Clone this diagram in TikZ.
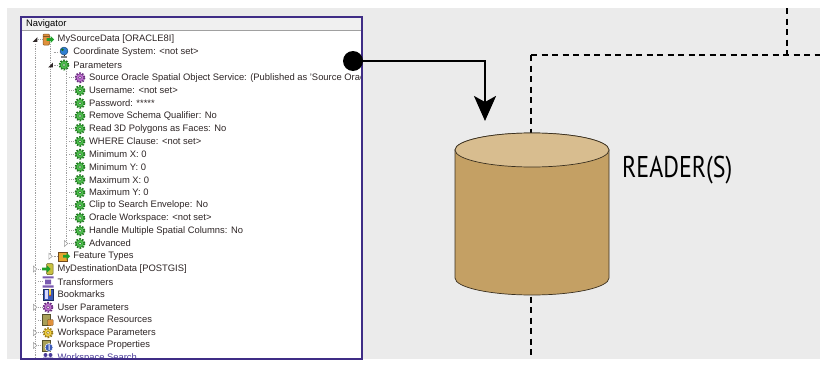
\documentclass[tikz,border=0pt]{standalone}
\usepackage{fontspec}
\setmainfont{Liberation Sans}
\newfontfamily\labelfont{PT Sans}
\usetikzlibrary{arrows.meta,positioning,shapes.geometric}
\definecolor{canvas}{HTML}{EBEBEB}
\definecolor{frame}{HTML}{3F2D86}
\definecolor{titlebar}{HTML}{F0F0F0}
\definecolor{treeink}{HTML}{2E2626}
\definecolor{searchink}{HTML}{4B3C9A}
\definecolor{guideline}{HTML}{A0A0A0}
\definecolor{geargreen}{HTML}{4CC04C}
\definecolor{geargreendk}{HTML}{1E7A1E}
\definecolor{gearpurple}{HTML}{C070D0}
\definecolor{gearpurpledk}{HTML}{6A2C80}
\definecolor{gearyellow}{HTML}{F0D040}
\definecolor{gearyellowdk}{HTML}{9A7A10}
\definecolor{arrowgreen}{HTML}{1FA02A}
\definecolor{dborange}{HTML}{E0913C}
\definecolor{dbolive}{HTML}{C8C040}
\definecolor{globeblue}{HTML}{2F7FD0}
\definecolor{stackpurple}{HTML}{7A5AB0}
\definecolor{bookblue}{HTML}{3A5AB8}
\definecolor{boxolive}{HTML}{A8A058}
\definecolor{tankbody}{HTML}{C4A064}
\definecolor{tanktop}{HTML}{D8BD8F}
\definecolor{tankline}{HTML}{3A3020}

% small gear: toothed rim, body and hub
\newcommand\gearicon[2]{%
  \draw[#2, line width=1.7pt, dash pattern=on 1.6pt off 1.3pt] (0,0) circle (4.6);
  \fill[#1, draw=#2, line width=.5pt] (0,0) circle (3.9);
  \fill[white, draw=#2, line width=.5pt] (0,0) circle (1.6);
}

\tikzset{
  % expanders
  togE/.pic={\fill[treeink] (2.4,-2.4) -- (2.4,2.4) -- (-2.4,2.4) -- cycle;},
  togC/.pic={\draw[guideline, line width=.6pt, fill=white] (-1.7,-3) -- (1.8,0) -- (-1.7,3) -- cycle;},
  togN/.pic={},
  % tree icons
  ggear/.pic={\gearicon{geargreen}{geargreendk}},
  pgear/.pic={\gearicon{gearpurple}{gearpurpledk}},
  ygear/.pic={\gearicon{gearyellow}{gearyellowdk}},
  srcdb/.pic={
    \fill[dborange, draw=dborange!60!black, line width=.5pt, rounded corners=1pt] (-5,-5.5) rectangle (1.5,5.5);
    \draw[dborange!60!black, line width=.4pt] (-5,-3) -- (1.5,-3);
    \fill[arrowgreen] (-1.5,-1.4) -- (2.5,-1.4) -- (2.5,-3.5) -- (6.2,0) -- (2.5,3.5) -- (2.5,1.4) -- (-1.5,1.4) -- cycle;},
  dstdb/.pic={
    \fill[dbolive, draw=dbolive!50!black, line width=.5pt, rounded corners=1pt] (-1.5,-5.5) rectangle (5,5.5);
    \fill[arrowgreen] (-6,-1.4) -- (-1,-1.4) -- (-1,-3.5) -- (2.7,0) -- (-1,3.5) -- (-1,1.4) -- (-6,1.4) -- cycle;},
  globe/.pic={
    \fill[globeblue, draw=globeblue!50!black, line width=.4pt] (0,-1.2) circle (4);
    \fill[arrowgreen!70!black] (-1.5,-2.5) circle (1.4);
    \draw[treeink, line width=.8pt] (0,2.8) -- (0,4.2);
    \fill[gray] (-3,4) rectangle (3,5.4);},
  folder/.pic={
    \fill[dborange!80!yellow, draw=dborange!50!black, line width=.4pt] (-5.5,-4) rectangle (3.5,5);
    \fill[arrowgreen] (-1,-1.4) -- (2.5,-1.4) -- (2.5,-3.5) -- (6.2,0) -- (2.5,3.5) -- (2.5,1.4) -- (-1,1.4) -- cycle;},
  stack/.pic={
    \fill[stackpurple] (-5.5,-5.5) rectangle (5.5,-3.3) (-3,-2.2) rectangle (3,2.6) (-5.5,3.6) rectangle (5.5,5.8);},
  book/.pic={
    \fill[bookblue, draw=bookblue!50!black, line width=.4pt] (-5,-5.5) rectangle (4.8,5.5);
    \fill[white!85!blue] (-3.2,-4.3) rectangle (0,4.3);
    \fill[gearyellow] (1,-5.5) rectangle (3.2,1);
    \fill[red!70!black] (1,1) -- (2.1,0) -- (3.2,1) -- cycle;},
  res/.pic={
    \fill[boxolive, draw=boxolive!50!black, line width=.4pt] (-5.5,-5.5) rectangle (2,5.5);
    \fill[dborange, draw=dborange!50!black, line width=.4pt, rounded corners=.8pt] (-0.5,-0.5) rectangle (5.2,5.5);},
  info/.pic={
    \fill[boxolive, draw=boxolive!50!black, line width=.4pt] (-5.5,-5.5) rectangle (2,5.5);
    \fill[bookblue, draw=white, line width=.5pt] (1,2) circle (4);
    \fill[white] (0.5,-0.4) rectangle (1.5,4.6) (1,-1.3) circle (.6);},
  people/.pic={
    \fill[searchink] (-2.5,-3) circle (2) (2.5,-3) circle (2)
      (-5,5) rectangle (0,-0.5) (0,5) rectangle (5,-0.5);},
}

\begin{document}
\begin{tikzpicture}[x=1pt, y=-1pt,
  item/.style={anchor=west, inner sep=0pt, font=\fontsize{9.4}{11}\selectfont, text=treeink},
  guide/.style={draw=guideline, line width=.6pt, dash pattern=on .8pt off 1pt},
  fence/.style={draw=black, line width=2.6pt, dash pattern=on 6pt off 4.5pt},
  feed/.style={-{Stealth[length=25pt, width=22pt, inset=6pt]}, line width=2.4pt, draw=black},
  tank/.style={minimum width=154pt, minimum height=162pt, inner sep=0pt, outer sep=0pt},
  tankface/.style={draw=tankline, line width=.7pt}
]
\useasboundingbox (0,0) rectangle (820,367);
\fill[canvas] (7,8) rectangle (820,359);

% boundaries of the reader stage
\draw[fence] (531,55) -- (531,357);
\draw[fence] (531,55) -- (820,55);
\draw[fence] (787,8) -- (787,55);

% reader tank
\node[tank] (reader) at (532,214) {};
\filldraw[tankface, fill=tankbody] ([yshift=-17pt]reader.north west)
  -- ([yshift=17pt]reader.south west) arc[start angle=180, end angle=360, x radius=77pt, y radius=17pt]
  -- ([yshift=-17pt]reader.north east) arc[start angle=0, end angle=180, x radius=77pt, y radius=17pt]
  -- cycle;
\filldraw[tankface, fill=tanktop] ([yshift=-17pt]reader.north) ellipse [x radius=77pt, y radius=17pt];
\node[anchor=west, inner sep=0pt, font=\labelfont\fontsize{30}{32}\selectfont, text=black]
  (readerlbl) [right=13pt of reader.east, yshift=44pt] {\scalebox{0.8}[1]{READER(S)}};

% navigator panel
\fill[white] (21,17) rectangle (362,359);
\fill[titlebar] (22,18) rectangle (361,30);
\draw[guideline, line width=.5pt] (22,30.5) -- (361,30.5);
\node[item, text=black] (navtitle) at (26,24.5) {Navigator};

\begin{scope}
  \clip (22,31) rectangle (361,358);
  % tree guides
  \draw[guide] (35,44) -- (35,358);
  \draw[guide] (50.5,44) -- (50.5,255);
  \draw[guide] (66,69) -- (66,243);
  \foreach \lvl/\tog/\ico/\txt [count=\i from 0] in {
    0/togE/srcdb/{MySourceData [ORACLE8I]},
    1/togN/globe/{Coordinate System: <not set>},
    1/togE/ggear/{Parameters},
    2/togN/pgear/{Source Oracle Spatial Object Service: (Published as 'Source Oracle Spatial Object Service')},
    2/togN/ggear/{Username: <not set>},
    2/togN/ggear/{Password: *****},
    2/togN/ggear/{Remove Schema Qualifier: No},
    2/togN/ggear/{Read 3D Polygons as Faces: No},
    2/togN/ggear/{WHERE Clause: <not set>},
    2/togN/ggear/{Minimum X: 0},
    2/togN/ggear/{Minimum Y: 0},
    2/togN/ggear/{Maximum X: 0},
    2/togN/ggear/{Maximum Y: 0},
    2/togN/ggear/{Clip to Search Envelope: No},
    2/togN/ggear/{Oracle Workspace: <not set>},
    2/togN/ggear/{Handle Multiple Spatial Columns: No},
    2/togC/ggear/{Advanced},
    1/togC/folder/{Feature Types},
    0/togC/dstdb/{MyDestinationData [POSTGIS]},
    0/togN/stack/{Transformers},
    0/togN/book/{Bookmarks},
    0/togC/pgear/{User Parameters},
    0/togN/res/{Workspace Resources},
    0/togC/ygear/{Workspace Parameters},
    0/togC/info/{Workspace Properties}}{
    \pgfmathsetmacro\ry{39.5+12.75*\i}
    \draw[guide] ({38+15.6*\lvl},\ry) -- ({43+16*\lvl},\ry);
    \pic at ({35+15.5*\lvl},\ry) {\tog};
    \pic at ({48+16*\lvl},\ry) {\ico};
    \node[item] (row\i) at ({57.5+15.7*\lvl},\ry) {\txt};
  }
  \draw[guide] (38,358) -- (43,358);
  \pic at (48,358) {people};
  \node[item, text=searchink] (row25) at (57.5,358) {Workspace Search};
\end{scope}
\draw[frame, line width=2.5pt] (21,17) rectangle (362,359);

% reader link
\node[circle, fill=black, minimum size=20pt, inner sep=0pt] (src) at (353,61) {};
\coordinate (drop) at (485,121);
\draw[feed] (src.center) -| (drop);
\end{tikzpicture}
\end{document}
